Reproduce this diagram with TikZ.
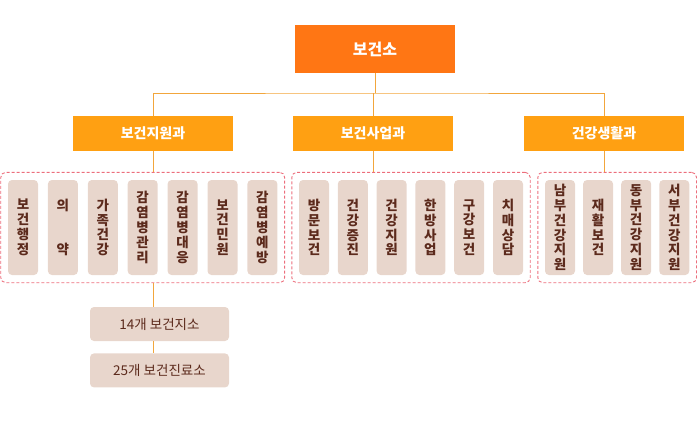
\documentclass[tikz,border=0pt]{standalone}
\usepackage{fontspec}
\setmainfont{Noto Sans CJK KR}
\usetikzlibrary{positioning, fit}

\definecolor{toporange}{HTML}{FF7614}
\definecolor{headorange}{HTML}{FFA012}
\definecolor{itemfill}{HTML}{E8D6CC}
\definecolor{itemtext}{HTML}{5C2A1C}
\definecolor{dashpink}{HTML}{EC6E7C}
\definecolor{linkorange}{HTML}{F2A63C}

\begin{document}
\begin{tikzpicture}[
  x=1pt, y=-1pt,
  node distance=9pt,
  topbox/.style={rectangle, fill=toporange, minimum width=160pt, minimum height=48pt,
                 text=white, font=\fontsize{16}{19}\selectfont\bfseries},
  head/.style={rectangle, fill=headorange, minimum width=160pt, minimum height=35pt,
               text=white, font=\fontsize{14}{17}\selectfont\bfseries},
  item/.style={rectangle, rounded corners=4pt, fill=itemfill, minimum width=30pt,
               minimum height=95pt, inner sep=0pt, text=itemtext, align=center,
               font=\fontsize{13.5}{14.8}\selectfont\bfseries},
  site/.style={rectangle, rounded corners=4pt, fill=itemfill, minimum width=139pt,
               minimum height=34pt, text=itemtext, font=\fontsize{13.5}{16}\selectfont},
  group/.style={draw=dashpink, dash pattern=on 3pt off 2pt, rounded corners=5pt,
                line width=0.9pt, inner xsep=7pt, inner ysep=7.5pt},
  link/.style={draw=linkorange, line width=1pt}
]
\useasboundingbox (0,0) rectangle (697,432);

\node[topbox] (hq) at (375,49) {보건소};
\coordinate (bar) at (375,93);

\node[head] (h1) at (153,133.5) {보건지원과};
\node[head] (h2) at (373,133.5) {보건사업과};
\node[head] (h3) at (604,133.5) {건강생활과};

% 보건지원과
\begin{scope}[node distance=9.5pt]
\node[item] (a1) at (23,227.5) {보\\건\\행\\정};
\node[item, right=of a1] (a2) {의\\\mbox{}\\\mbox{}\\약};
\node[item, right=of a2] (a3) {가\\족\\건\\강};
\node[item, right=of a3] (a4) {감\\염\\병\\관\\리};
\node[item, right=of a4] (a5) {감\\염\\병\\대\\응};
\node[item, right=of a5] (a6) {보\\건\\민\\원};
\node[item, right=of a6] (a7) {감\\염\\병\\예\\방};
\end{scope}

% 보건사업과
\begin{scope}[node distance=8.4pt]
\node[item] (b1) at (314,227.5) {방\\문\\보\\건};
\node[item, right=of b1] (b2) {건\\강\\증\\진};
\node[item, right=of b2] (b3) {건\\강\\지\\원};
\node[item, right=of b3] (b4) {한\\방\\사\\업};
\node[item, right=of b4] (b5) {구\\강\\보\\건};
\node[item, right=of b5] (b6) {치\\매\\상\\담};
\end{scope}

% 건강생활과
\begin{scope}[node distance=7.7pt]
\node[item] (c1) at (560,227.5) {남\\부\\건\\강\\지\\원};
\node[item, right=of c1] (c2) {재\\활\\보\\건};
\node[item, right=of c2] (c3) {동\\부\\건\\강\\지\\원};
\node[item, right=of c3] (c4) {서\\부\\건\\강\\지\\원};
\end{scope}

\node[group, fit=(a1)(a7)] (g1) {};
\node[group, fit=(b1)(b6)] (g2) {};
\node[group, fit=(c1)(c4)] (g3) {};

\node[site] (s1) at (159.5,324) {14개 보건지소};
\node[site, below=12pt of s1] (s2) {25개 보건진료소};

\draw[link] (hq.south) -- (bar);
\draw[link] (h1.north) |- (bar) -| (h3.north);
\draw[link] (h2.north |- bar) -- (h2.north);
\draw[link] (h1.south) -- (h1.south |- g1.north);
\draw[link] (h2.south) -- (h2.south |- g2.north);
\draw[link] (h3.south) -- (h3.south |- g3.north);
\draw[link] (h1.south |- g1.south) -- (h1.south |- s1.north);
\draw[link] (h1.south |- s1.south) -- (h1.south |- s2.north);
\end{tikzpicture}
\end{document}
